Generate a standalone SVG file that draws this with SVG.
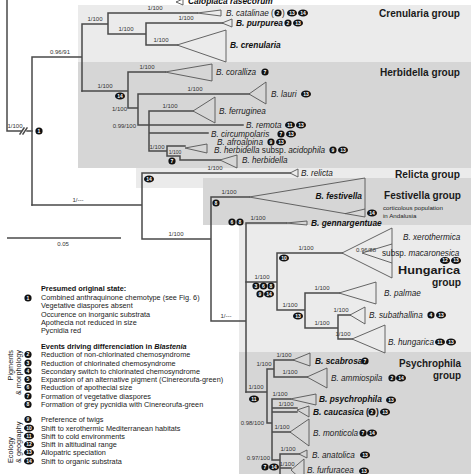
<svg xmlns="http://www.w3.org/2000/svg" width="474" height="474" viewBox="0 0 474 474">
<style>
.br{stroke:#4a4a4a;stroke-width:1.5;fill:none;stroke-linecap:square}
.tr{stroke:#555;stroke-width:0.9;fill:none}
.s{font-family:"Liberation Sans",Arial,sans-serif;font-size:6px;fill:#333}
.sp{font-family:"Liberation Sans",Arial,sans-serif;font-size:8.2px;font-style:italic;fill:#222}
.spb{font-family:"Liberation Sans",Arial,sans-serif;font-size:8.4px;font-style:italic;font-weight:bold;fill:#111}
.up{font-style:normal}
.g{font-family:"Liberation Sans",Arial,sans-serif;font-size:11.2px;font-weight:bold;fill:#1a1a1a}
.lg{font-family:"Liberation Sans",Arial,sans-serif;font-size:7.3px;fill:#222}
.lgb{font-family:"Liberation Sans",Arial,sans-serif;font-size:7.3px;font-weight:bold;fill:#111}
.sm{font-family:"Liberation Sans",Arial,sans-serif;font-size:6.2px;fill:#222}
.m{fill:#111}
.mt{font-family:"Liberation Sans",Arial,sans-serif;font-size:5px;font-weight:bold;fill:#fff;text-anchor:middle}
.c{text-anchor:middle}
.e{text-anchor:end}
</style>
<defs>
<g id="m1"><circle r="3.6" class="m"/></g>
<g id="m2"><ellipse rx="5" ry="3.6" class="m"/></g>
</defs>

<g id="panels">
<rect x="78" y="5" width="393" height="57" fill="#ebebeb"/>
<rect x="78" y="62" width="393" height="106" fill="#d6d6d6"/>
<rect x="136" y="168" width="335" height="20" fill="#ebebeb"/>
<rect x="203" y="178" width="268" height="47" fill="#d6d6d6"/>
<rect x="239" y="225" width="232" height="127" fill="#ebebeb"/>
<rect x="239" y="352" width="232" height="122" fill="#d6d6d6"/>
</g>

<g id="connectors">
<path class="br" d="M7,0V131H21M27,131H32"/>
<path class="br" d="M20,134L24,128M23,134L27,128" stroke-width="0.8"/>
<path class="br" d="M32,57V205M32,57H82M82,24V91M82,24H108M108,13V34M108,13H197M108,34H146M146,23V45M146,23H222M146,45H177"/>
<path class="br" d="M82,91H128M128,72V108M128,72H165M128,108H138M138,94V125M138,94H249M138,125H243M149,111V151M149,111H193M149,133H208M149,151H167M167,146V156M167,146H185M167,156H180V160H220"/>
<path class="br" d="M32,205H142M142,173V239M142,173H290M142,239H211M211,197V321M211,197H249M211,321H246M246,223V392M246,223H286"/>
<path class="br" d="M246,282H277M277,253V310M277,253H342M277,310H305M305,293V328M305,293H339M305,328H338M338,315V339M338,315H350M338,339H352"/>
<path class="br" d="M246,392H267M267,369V423M267,369H274M274,360V377M274,360H293M274,377H307M267,423H272M272,399V460M272,399H290M272,408H297M272,412H297M272,432H290M272,460H280M280,454V474M280,454H299M280,468H291"/>
</g>

<g id="branch-labels" class="s">
<text x="15" y="128" class="c">1/100</text>
<text x="60" y="54" class="c">0.96/91</text>
<text x="95" y="21" class="c">1/100</text>
<text x="155" y="10" class="c">1/100</text>
<text x="126" y="31" class="c">1/100</text>
<text x="186" y="20" class="c">1/100</text>
<text x="161" y="42" class="c">1/100</text>
<text x="105" y="88" class="c">1/100</text>
<text x="147" y="69" class="c">1/100</text>
<text x="195" y="91" class="c">1/100</text>
<text x="127" y="111" class="e">1/100</text>
<text x="136" y="128" class="e">0.99/100</text>
<text x="170" y="108" class="c">1/100</text>
<text x="157" y="149" class="c">1/100</text>
<text x="175" y="154" class="c" font-size="5">1/100</text>
<text x="215" y="170" class="c">1/100</text>
<text x="78" y="202" class="c">1/---</text>
<text x="176" y="236" class="c">1/100</text>
<text x="229" y="194" class="c">1/100</text>
<text x="258" y="220" class="c">1/100</text>
<text x="226" y="318" class="c">1/---</text>
<text x="262" y="279" class="c">1/100</text>
<text x="306" y="250" class="c">1/100</text>
<text x="366" y="252" class="c">0.96/88</text>
<text x="290" y="307" class="c">1/100</text>
<text x="322" y="290" class="c">1/100</text>
<text x="322" y="325" class="c">1/100</text>
<text x="341" y="312" class="c">1/100</text>
<text x="343" y="336" class="c">1/100</text>
<text x="256" y="389" class="c">1/100</text>
<text x="264" y="366" class="c">1/100</text>
<text x="284" y="357" class="c">1/100</text>
<text x="290" y="374" class="c">1/100</text>
<text x="280" y="396" class="c">1/100</text>
<text x="286" y="406" class="c">1/100</text>
<text x="264" y="425" class="e">0.98/100</text>
<text x="282" y="429" class="c">1/100</text>
<text x="288" y="451" class="c">1/100</text>
<text x="270" y="460" class="e">0.97/100</text>
<text x="287" y="466" class="c">1/100</text>
</g>

<g id="branch-events">
<use href="#m1" x="39" y="131"/><text class="mt" x="39" y="132.8">1</text>
<use href="#m2" x="120" y="96"/><text class="mt" x="120" y="97.8">14</text>
<use href="#m1" x="172" y="161"/><text class="mt" x="172" y="162.8">7</text>
<use href="#m2" x="149" y="179"/><text class="mt" x="149" y="180.8">14</text>
<use href="#m1" x="216" y="203"/><text class="mt" x="216" y="204.8">8</text>
<use href="#m1" x="232" y="222"/><text class="mt" x="232" y="223.8">6</text>
<use href="#m1" x="240" y="222"/><text class="mt" x="240" y="223.8">8</text>
<use href="#m1" x="256" y="286"/><text class="mt" x="256" y="287.8">3</text>
<use href="#m1" x="263.5" y="286"/><text class="mt" x="263.5" y="287.8">6</text>
<use href="#m1" x="271" y="286"/><text class="mt" x="271" y="287.8">8</text>
<use href="#m1" x="260" y="294"/><text class="mt" x="260" y="295.8">9</text>
<use href="#m2" x="269" y="294"/><text class="mt" x="269" y="295.8">14</text>
<use href="#m2" x="284" y="258"/><text class="mt" x="284" y="259.8">10</text>
<use href="#m2" x="298" y="316"/><text class="mt" x="298" y="317.8">13</text>
<use href="#m2" x="254" y="399"/><text class="mt" x="254" y="400.8">11</text>
<use href="#m1" x="265" y="467"/><text class="mt" x="265" y="468.8">7</text>
<use href="#m2" x="274" y="467"/><text class="mt" x="274" y="468.8">14</text>
</g>

<g id="outgroup">
<path class="tr" d="M176,2L183,-1V5Z"/>
<text class="spb" x="188" y="3.5">Caloplaca rasecorum</text>
</g>

<g id="catalinae">
<path class="tr" d="M197,13L221,10V16Z"/>
<text class="sp" x="226" y="16">B. catalinae <tspan class="up">(</tspan></text>
<use href="#m1" x="278" y="13"/><text class="mt" x="278" y="14.8">2</text>
<text class="sp up" x="282" y="16">)</text>
<use href="#m2" x="292" y="13"/><text class="mt" x="292" y="14.8">13</text>
<use href="#m2" x="303" y="13"/><text class="mt" x="303" y="14.8">14</text>
</g>
<g id="purpurea">
<path class="tr" d="M222,23L232,19V27Z"/>
<text class="spb" x="236" y="26">B. purpurea</text>
<use href="#m1" x="288" y="23"/><text class="mt" x="288" y="24.8">2</text>
<use href="#m2" x="298" y="23"/><text class="mt" x="298" y="24.8">13</text>
</g>
<g id="crenularia">
<path class="tr" d="M177,45L226,30V62Z"/>
<text class="spb" x="230" y="48">B. crenularia</text>
</g>
<g id="coralliza">
<path class="tr" d="M165,72L212,64V81Z"/>
<text class="sp" x="216" y="75">B. coralliza</text>
<use href="#m1" x="265" y="72"/><text class="mt" x="265" y="73.8">7</text>
</g>
<g id="lauri">
<path class="tr" d="M249,94L266,82V104Z"/>
<text class="sp" x="271" y="97">B. lauri</text>
<use href="#m2" x="306" y="94"/><text class="mt" x="306" y="95.8">13</text>
</g>
<g id="ferruginea">
<path class="tr" d="M193,111L215,97V123Z"/>
<text class="sp" x="219" y="114">B. ferruginea</text>
</g>
<g id="remota">
<text class="sp" x="246" y="128">B. remota</text>
<use href="#m2" x="290" y="125"/><text class="mt" x="290" y="126.8">11</text>
<use href="#m2" x="301" y="125"/><text class="mt" x="301" y="126.8">13</text>
</g>
<g id="circumpolaris">
<text class="sp" x="211" y="137">B. circumpolaris</text>
<use href="#m1" x="281" y="134"/><text class="mt" x="281" y="135.8">7</text>
<use href="#m2" x="291" y="134"/><text class="mt" x="291" y="135.8">13</text>
</g>
<g id="afroalpina">
<path class="tr" d="M185,148L207,144V153Z"/>
<text class="sp" x="217" y="145">B. afroalpina</text>
<use href="#m1" x="271" y="142"/><text class="mt" x="271" y="143.8">9</text>
<use href="#m2" x="281" y="142"/><text class="mt" x="281" y="143.8">13</text>
</g>
<g id="acidophila">
<text class="sp" x="214" y="152.5">B. herbidella <tspan class="up">subsp.</tspan> acidophila</text>
<use href="#m1" x="333" y="150"/><text class="mt" x="333" y="151.8">9</text>
<use href="#m2" x="343" y="150"/><text class="mt" x="343" y="151.8">13</text>
</g>
<g id="herbidella">
<path class="tr" d="M220,160L237,155V168Z"/>
<text class="sp" x="242" y="163">B. herbidella</text>
</g>
<g id="relicta">
<path class="tr" d="M290,173L298,169V177Z"/>
<text class="sp" x="301" y="176">B. relicta</text>
</g>
<g id="festivella">
<path class="tr" d="M249,197L365,178V217Z"/>
<path class="tr" d="M345,213.7L365,209"/>
<text class="spb e" x="362" y="199">B. festivella</text>
<use href="#m2" x="372" y="213"/><text class="mt" x="372" y="214.8">14</text>
<text class="sm" x="383" y="210">corticolous population</text>
<text class="sm" x="383" y="218">in Andalusia</text>
</g>
<g id="gennargentuae">
<path class="tr" d="M286,223L307,221V225Z"/>
<text class="spb" x="311" y="226">B. gennargentuae</text>
</g>
<g id="xerothermica">
<path class="tr" d="M342,253L392,228V278Z"/>
<path class="tr" d="M362,253L392,244M362,253L392,263"/>
<text class="sp" x="403" y="240">B. xerothermica</text>
<text class="sp" x="382" y="255.5"><tspan class="up">subsp.</tspan> macaronesica</text>
<use href="#m2" x="445" y="260.5"/><text class="mt" x="445" y="262.3">12</text>
<use href="#m2" x="456" y="260.5"/><text class="mt" x="456" y="262.3">13</text>
</g>
<g id="palmae">
<path class="tr" d="M339,293L376,282V304Z"/>
<text class="sp" x="384" y="296">B. palmae</text>
</g>
<g id="subathallina">
<path class="tr" d="M350,315L365,307V324Z"/>
<text class="sp" x="369" y="318">B. subathallina</text>
<use href="#m1" x="431" y="315"/><text class="mt" x="431" y="316.8">4</text>
<use href="#m2" x="441" y="315"/><text class="mt" x="441" y="316.8">13</text>
</g>
<g id="hungarica">
<path class="tr" d="M352,339L385,325V353Z"/>
<text class="sp" x="388" y="345">B. hungarica</text>
<use href="#m2" x="440" y="342"/><text class="mt" x="440" y="343.8">11</text>
<use href="#m2" x="451" y="342"/><text class="mt" x="451" y="343.8">13</text>
</g>
<g id="scabrosa">
<path class="tr" d="M293,360L310,353V366Z"/>
<text class="spb" x="315" y="364">B. scabrosa</text>
<use href="#m1" x="365" y="361"/><text class="mt" x="365" y="362.8">7</text>
</g>
<g id="ammiospila">
<path class="tr" d="M307,377L327,368V388Z"/>
<text class="sp" x="331" y="381">B. ammiospila</text>
<use href="#m1" x="392" y="378"/><text class="mt" x="392" y="379.8">2</text>
<use href="#m2" x="401" y="378"/><text class="mt" x="401" y="379.8">14</text>
</g>
<g id="psychrophila">
<path class="tr" d="M290,399L316,394V405Z"/>
<text class="spb" x="319" y="402">B. psychrophila</text>
<use href="#m2" x="391" y="400"/><text class="mt" x="391" y="401.8">13</text>
</g>
<g id="caucasica">
<path class="tr" d="M297,410L309,406V417Z"/>
<text class="spb" x="313" y="415">B. caucasica <tspan class="up">(</tspan></text>
<use href="#m1" x="372" y="412"/><text class="mt" x="372" y="413.8">2</text>
<text class="spb up" x="376" y="415">)</text>
<use href="#m2" x="385" y="412"/><text class="mt" x="385" y="413.8">13</text>
</g>
<g id="monticola">
<path class="tr" d="M290,432L309,419V446Z"/>
<text class="sp" x="313" y="436">B. monticola</text>
<use href="#m1" x="363" y="433"/><text class="mt" x="363" y="434.8">7</text>
<use href="#m2" x="372" y="433"/><text class="mt" x="372" y="434.8">14</text>
</g>
<g id="anatolica">
<path class="tr" d="M299,454L307,450V458Z"/>
<text class="sp" x="312" y="458">B. anatolica</text>
<use href="#m2" x="365" y="455"/><text class="mt" x="365" y="456.8">13</text>
</g>
<g id="furfuracea">
<path class="tr" d="M291,470L304,459V482Z"/>
<text class="sp" x="307" y="473">B. furfuracea</text>
<use href="#m2" x="364" y="471"/><text class="mt" x="364" y="472.8">13</text>
</g>

<g id="group-titles">
<text class="g" x="379" y="17" textLength="81" lengthAdjust="spacingAndGlyphs">Crenularia group</text>
<text class="g" x="380" y="76" textLength="80" lengthAdjust="spacingAndGlyphs">Herbidella group</text>
<text class="g" x="395" y="178" textLength="65" lengthAdjust="spacingAndGlyphs">Relicta group</text>
<text class="g" x="384" y="199" textLength="77" lengthAdjust="spacingAndGlyphs">Festivella group</text>
<text class="g" x="398" y="274" textLength="62" lengthAdjust="spacingAndGlyphs">Hungarica</text>
<text class="g" x="432" y="286" textLength="29" lengthAdjust="spacingAndGlyphs">group</text>
<text class="g" x="399" y="366.5" textLength="62" lengthAdjust="spacingAndGlyphs">Psychrophila</text>
<text class="g" x="433" y="379" textLength="28" lengthAdjust="spacingAndGlyphs">group</text>
</g>

<g id="scale">
<path d="M7,238H121" stroke="#4a4a4a" stroke-width="1.3"/>
<text class="s c" x="63" y="246">0.05</text>
</g>

<g id="legend">
<text class="lgb" x="41" y="291">Presumed original state:</text>
<use href="#m1" x="28" y="298"/><text class="mt" x="28" y="299.8">1</text>
<text class="lg" x="41" y="300">Combined anthraquinone chemotype (see Fig. 6)</text>
<text class="lg" x="41" y="308">Vegetative diaspores absent</text>
<text class="lg" x="41" y="316.5">Occurence on inorganic substrata</text>
<text class="lg" x="41" y="325">Apothecia not reduced in size</text>
<text class="lg" x="41" y="333">Pycnidia red</text>
<text class="lgb" x="41" y="349">Events driving differenciation in <tspan font-style="italic">Blastenia</tspan></text>
<text class="lg" x="41" y="357">Reduction of non-chlorinated chemosyndrome</text>
<text class="lg" x="41" y="365.5">Reduction of chlorinated chemosyndrome</text>
<text class="lg" x="41" y="373.5">Secondary switch to chlorinated chemosyndrome</text>
<text class="lg" x="41" y="382">Expansion of an alternative pigment (Cinereorufa-green)</text>
<text class="lg" x="41" y="390">Reduction of apothecial size</text>
<text class="lg" x="41" y="398.5">Formation of vegetative diaspores</text>
<text class="lg" x="41" y="407">Formation of grey pycnidia with Cinereorufa-green</text>
<text class="lg" x="41" y="422">Preference of twigs</text>
<text class="lg" x="41" y="430.5">Shift to xerothermic Mediterranean habitats</text>
<text class="lg" x="41" y="438.5">Shift to cold environments</text>
<text class="lg" x="41" y="447">Shift in altitudinal range</text>
<text class="lg" x="41" y="455">Allopatric speciation</text>
<text class="lg" x="41" y="463.5">Shift to organic substrata</text>
<use href="#m1" x="28" y="354.5"/><text class="mt" x="28" y="356.3">2</text>
<use href="#m1" x="28" y="363"/><text class="mt" x="28" y="364.8">3</text>
<use href="#m1" x="28" y="371"/><text class="mt" x="28" y="372.8">4</text>
<use href="#m1" x="28" y="379.5"/><text class="mt" x="28" y="381.3">5</text>
<use href="#m1" x="28" y="387.5"/><text class="mt" x="28" y="389.3">6</text>
<use href="#m1" x="28" y="396"/><text class="mt" x="28" y="397.8">7</text>
<use href="#m1" x="28" y="404.5"/><text class="mt" x="28" y="406.3">8</text>
<use href="#m1" x="28" y="419.5"/><text class="mt" x="28" y="421.3">9</text>
<use href="#m2" x="29" y="428"/><text class="mt" x="29" y="429.8">10</text>
<use href="#m2" x="29" y="436"/><text class="mt" x="29" y="437.8">11</text>
<use href="#m2" x="29" y="444.5"/><text class="mt" x="29" y="446.3">12</text>
<use href="#m2" x="29" y="452.5"/><text class="mt" x="29" y="454.3">13</text>
<use href="#m2" x="29" y="461"/><text class="mt" x="29" y="462.8">14</text>
<text class="lg e" transform="translate(13,350) rotate(-90)">Pigments</text>
<text class="lg e" transform="translate(21,350) rotate(-90)">&amp; morphology</text>
<text class="lg" transform="translate(13,463) rotate(-90)">Ecology</text>
<text class="lg" transform="translate(21,463) rotate(-90)">&amp; geography</text>
</g>
</svg>
